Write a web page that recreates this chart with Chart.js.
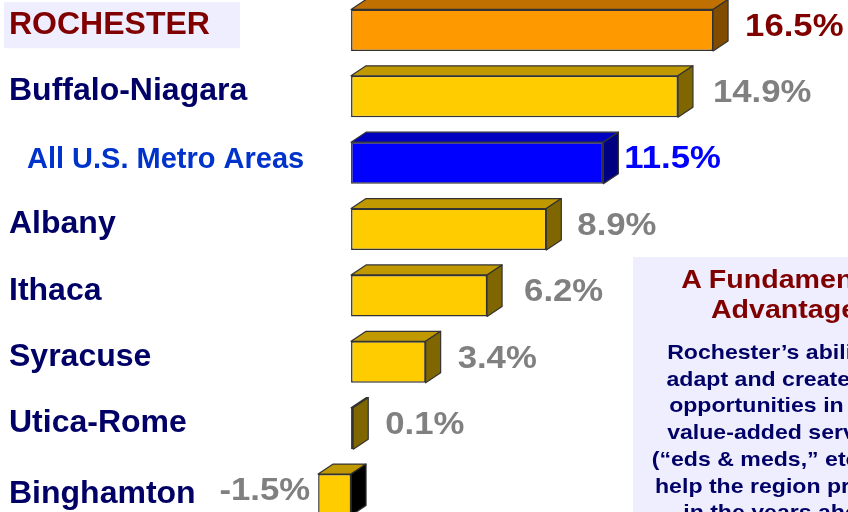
<!DOCTYPE html>
<html>
<head>
<meta charset="utf-8">
<script src="https://cdn.jsdelivr.net/npm/chart.js@4.4.0/dist/chart.umd.min.js"></script>
<style>
    html, body {
        margin: 0;
        padding: 0;
        width: 848px;
        height: 512px;
        overflow: hidden;
        background: #ffffff;
        font-family: "Liberation Sans", Arial, sans-serif;
    }
    #wrap {
        position: absolute;
        left: 0;
        top: -3px;
        width: 848px;
        height: 531px;
    }
    #note {
        position: absolute;
        left: 633px;
        top: 257px;
        width: 300px;
        height: 300px;
        background: #eeeeff;
    }
    #note .inner {
        position: absolute;
        left: 1px;
        top: 0;
        width: 300px;
        text-align: center;
        font-weight: bold;
        white-space: nowrap;
        transform: scaleX(1.1);
        transform-origin: 50% 0;
    }
    #note h2 {
        margin: 7px 0 0 0;
        font-size: 26px;
        line-height: 30px;
        color: #800000;
    }
    #note p {
        margin: 15px 0 0 0;
        font-size: 21px;
        line-height: 26.7px;
        color: #000066;
    }
</style>
</head>
<body>
<div id="wrap"><canvas id="growthChart" width="848" height="531"></canvas></div>
<div id="note">
    <div class="inner">
        <h2>A Fundamental<br>Advantage</h2>
        <p>Rochester’s ability to<br>adapt and create new<br>opportunities in high<br>value-added services<br>(“eds &amp; meds,” etc.) will<br>help the region prosper<br>in the years ahead</p>
    </div>
</div>
<script>
// data
const categories = ["ROCHESTER", "Buffalo-Niagara", "All U.S. Metro Areas", "Albany", "Ithaca", "Syracuse", "Utica-Rome", "Binghamton"];
const growth = [16.5, 14.9, 11.5, 8.9, 6.2, 3.4, 0.1, -1.5];

// styles
const frontColors = ["#ff9900", "#ffcc00", "#0000ff", "#ffcc00", "#ffcc00", "#ffcc00", "#ffcc00", "#ffcc00"];
const topColors = ["#c07000", "#c09900", "#0000c0", "#c09900", "#c09900", "#c09900", "#c09900", "#c09900"];
const sideColors = ["#7f4c00", "#806600", "#000080", "#806600", "#806600", "#806600", "#806600", "#000000"];
const nameColors = ["#800000", "#000066", "#0033cc", "#000066", "#000066", "#000066", "#000066", "#000066"];
const valueColors = ["#800000", "#808080", "#0000ff", "#808080", "#808080", "#808080", "#808080", "#808080"];
const valueGaps = [17, 20, 6, 16, 22, 17, 17, 8];

const DX = 15;
const DY = 10;

document.addEventListener("DOMContentLoaded", () => {
    // 3D faces + labels
    const depthPlugin = {
        id: "depth",
        afterDatasetsDraw(chart) {
            const ctx = chart.ctx;
            const meta = chart.getDatasetMeta(0);
            meta.data.forEach((bar, i) => {
                const left = Math.min(bar.x, bar.base);
                const right = Math.max(bar.x, bar.base);
                const top = bar.y - bar.height / 2;
                const bottom = bar.y + bar.height / 2;

                ctx.save();
                ctx.strokeStyle = "#333333";
                ctx.lineWidth = 1.2;
                ctx.lineJoin = "round";

                // top face
                ctx.beginPath();
                ctx.moveTo(left, top);
                ctx.lineTo(left + DX, top - DY);
                ctx.lineTo(right + DX, top - DY);
                ctx.lineTo(right, top);
                ctx.closePath();
                ctx.fillStyle = topColors[i];
                ctx.fill();
                ctx.stroke();

                // side face
                ctx.beginPath();
                ctx.moveTo(right, top);
                ctx.lineTo(right + DX, top - DY);
                ctx.lineTo(right + DX, bottom - DY);
                ctx.lineTo(right, bottom);
                ctx.closePath();
                ctx.fillStyle = sideColors[i];
                ctx.fill();
                ctx.stroke();

                // value label (slightly wide in the original)
                ctx.font = "bold 31px 'Liberation Sans', Arial, sans-serif";
                ctx.textBaseline = "middle";
                ctx.fillStyle = valueColors[i];
                const txt = growth[i].toFixed(1) + "%";
                const tx = growth[i] < 0 ? left - valueGaps[i] : right + DX + valueGaps[i];
                ctx.save();
                ctx.translate(tx, bar.y - 3);
                ctx.scale(1.12, 1);
                ctx.textAlign = growth[i] < 0 ? "right" : "left";
                ctx.fillText(txt, 0, 0);
                ctx.restore();

                // category label
                ctx.textAlign = "left";
                if (i === 0) {
                    ctx.fillStyle = "#eeeeff";
                    ctx.fillRect(4, bar.y - 28, 236, 46);
                }
                ctx.fillStyle = nameColors[i];
                if (i === 2) {
                    ctx.font = "bold 29px 'Liberation Sans', Arial, sans-serif";
                    ctx.fillText(categories[i], 27, bar.y - 3);
                } else {
                    ctx.font = "bold 32px 'Liberation Sans', Arial, sans-serif";
                    ctx.fillText(categories[i], 9, bar.y - (i === 7 ? 1 : 5));
                }
                ctx.restore();
            });
        },
    };

    const ctx = document.getElementById("growthChart").getContext("2d");
    new Chart(ctx, {
        type: "bar",
        data: {
            labels: categories,
            datasets: [
                {
                    label: "Growth",
                    data: growth,
                    backgroundColor: frontColors,
                    borderColor: "#333333",
                    borderWidth: 1.5,
                    borderSkipped: false,
                    barPercentage: 0.625,
                    categoryPercentage: 1,
                },
            ],
        },
        options: {
            indexAxis: "y",
            responsive: false,
            animation: false,
            devicePixelRatio: 1,
            layout: { padding: 0 },
            plugins: {
                legend: { display: false },
                tooltip: { enabled: false },
            },
            scales: {
                x: { display: false, min: -16, max: 22.65 },
                y: { display: false },
            },
        },
        plugins: [depthPlugin],
    });
});
</script>
</body>
</html>
